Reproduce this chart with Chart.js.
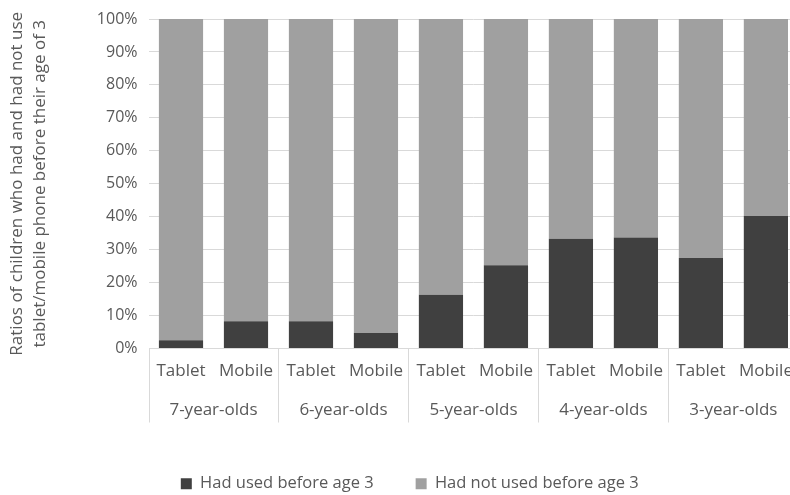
<!DOCTYPE html>
<html>
<head>
<meta charset="utf-8">
<script src="https://cdn.jsdelivr.net/npm/chart.js@4"></script>
<style>
html,body{margin:0;padding:0;background:#fff;overflow:hidden;}
#wrap{width:805px;height:502px;}
</style>
</head>
<body>
<div id="wrap"><canvas id="c" width="805" height="502"></canvas></div>
<script>
const devices = ["Tablet","Mobile","Tablet","Mobile","Tablet","Mobile","Tablet","Mobile","Tablet","Mobile"];
const ageGroups = ["7-year-olds","6-year-olds","5-year-olds","4-year-olds","3-year-olds"];
const usedBefore3 = [2.5, 8.3, 8.3, 4.7, 16.3, 25.3, 33.3, 33.7, 27.5, 40.2];
const notUsedBefore3 = usedBefore3.map(v => 100 - v);
const yTicks = [0,10,20,30,40,50,60,70,80,90,100];

const FONT = "'Open Sans'";
const TXT = "#595959";

const dividers = {
  id: 'dividers',
  afterDraw(chart) {
    const x = chart.scales.x, x2 = chart.scales.x2;
    const w = x.getPixelForValue(1) - x.getPixelForValue(0);
    const ctx = chart.ctx;
    ctx.save();
    ctx.strokeStyle = '#d9d9d9';
    ctx.lineWidth = 1;
    for (let i = 0; i <= devices.length; i += 2) {
      const px = Math.round(x.getPixelForValue(i) - w / 2) + 0.5;
      ctx.beginPath();
      ctx.moveTo(px, chart.chartArea.bottom);
      ctx.lineTo(px, x2.top + 34);
      ctx.stroke();
    }
    ctx.restore();
  }
};

new Chart(document.getElementById('c'), {
  type: 'bar',
  data: {
    labels: devices,
    datasets: [
      {label: 'Had used before age 3', data: usedBefore3, backgroundColor: '#404040', barPercentage: 0.68, categoryPercentage: 1.0},
      {label: 'Had not used before age 3', data: notUsedBefore3, backgroundColor: '#a0a0a0', barPercentage: 0.68, categoryPercentage: 1.0}
    ]
  },
  options: {
    responsive: false,
    animation: false,
    layout: {padding: {top: 19, right: 1.5, left: 16, bottom: 0}},
    plugins: {
      tooltip: {enabled: false},
      legend: {
        position: 'bottom',
        labels: {
          boxWidth: 11, boxHeight: 11, padding: 42,
          color: TXT, font: {family: FONT, size: 16.5}
        }
      }
    },
    scales: {
      x: {
        stacked: true,
        clip: false,
        grid: {display: false, drawTicks: false},
        border: {display: false},
        ticks: {color: TXT, font: {family: FONT, size: 17}, maxRotation: 0, autoSkip: false, padding: 12},
        afterFit: s => { s.height = 40; }
      },
      x2: {
        type: 'category',
        labels: ageGroups,
        position: 'bottom',
        clip: false,
        grid: {display: false, drawTicks: false},
        border: {display: false},
        ticks: {color: TXT, font: {family: FONT, size: 17}, maxRotation: 0, autoSkip: false, padding: 11},
        afterFit: s => { s.height = 45; }
      },
      y: {
        stacked: true,
        min: 0, max: 100,
        clip: false,
        afterBuildTicks: s => { s.ticks = yTicks.map(v => ({value: v})); },
        afterFit: s => { s.width = 132.5; s.paddingTop = 0; s.paddingBottom = 0; },
        grid: {color: '#d9d9d9', drawTicks: false},
        border: {display: false},
        ticks: {color: TXT, font: {family: FONT, size: 16}, padding: 11, callback: v => v + '%'},
        title: {
          display: true,
          text: ['Ratios of children who had and had not use', 'tablet/mobile phone before their age of 3'],
          color: TXT, font: {family: FONT, size: 17, lineHeight: 1.33}, padding: {top: -10, bottom: 0}
        }
      }
    }
  },
  plugins: [dividers]
});
</script>
</body>
</html>
